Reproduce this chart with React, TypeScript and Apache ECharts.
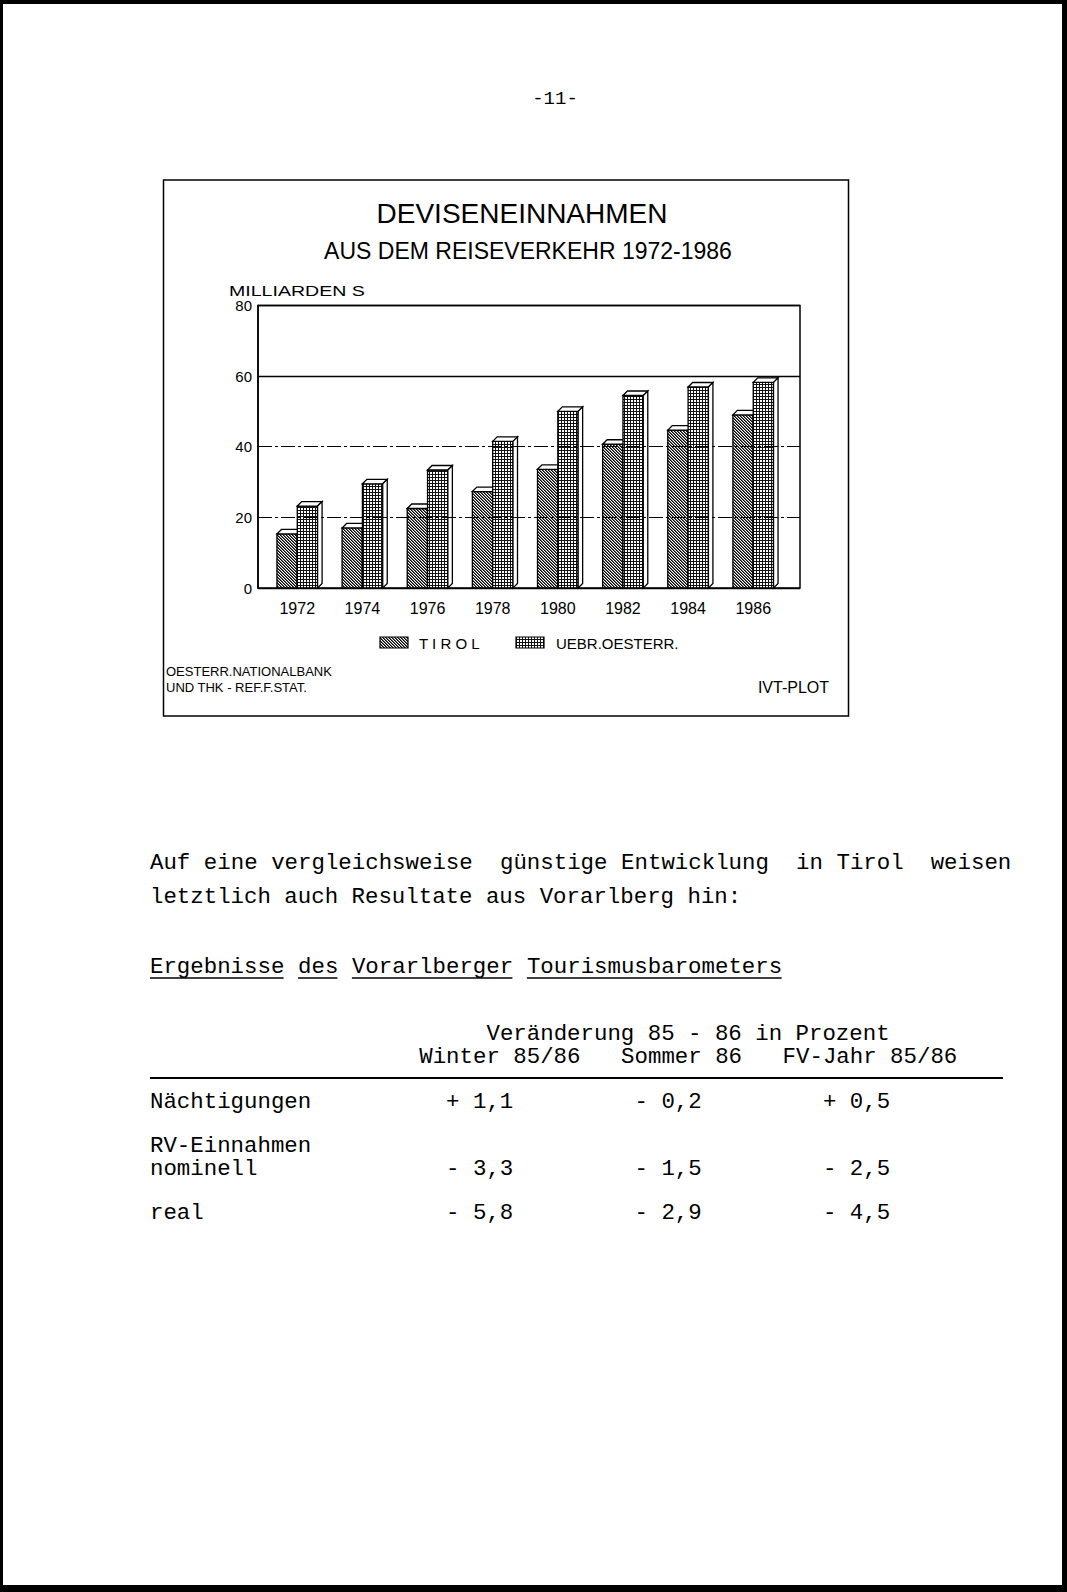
import React, { useEffect, useRef } from 'react';
import * as echarts from 'echarts';

// ---------- chart data ----------
const years = ['1972', '1974', '1976', '1978', '1980', '1982', '1984', '1986'];
const tirol = [15.3, 17.0, 22.5, 27.3, 33.6, 40.7, 44.7, 49.0];
const uebrOesterr = [23.2, 29.5, 33.4, 41.5, 50.0, 54.5, 56.9, 58.2];
const yMin = 0;
const yMax = 80;
const yStep = 20;
const legendNames = ['T I R O L', 'UEBR.OESTERR.'];

// ---------- table data ----------
const tableTitle = 'Veränderung 85 - 86 in Prozent';
const tableColumns = ['Winter 85/86', 'Sommer 86', 'FV-Jahr 85/86'];
const rowLabels = ['Nächtigungen', 'RV-Einnahmen', 'nominell', 'real'];
const winterValues = ['+ 1,1', '- 3,3', '- 5,8'];
const sommerValues = ['- 0,2', '- 1,5', '- 2,9'];
const fvJahrValues = ['+ 0,5', '- 2,5', '- 4,5'];

const SANS = "'Liberation Sans', Arial, sans-serif";
const MONO = "'Liberation Mono', 'Courier New', monospace";
const MONO_SIZE = 22.4;
const ADV = 13.46;
const X0 = 150;
const monoX = (slot: number) => X0 + slot * ADV;

function makeTile(size: number, fn: (x: number, y: number) => string | null) {
  const c = document.createElement('canvas');
  c.width = size;
  c.height = size;
  const ctx = c.getContext('2d')!;
  ctx.fillStyle = '#fff';
  ctx.fillRect(0, 0, size, size);
  for (let y = 0; y < size; y++) {
    for (let x = 0; x < size; x++) {
      const v = fn(x, y);
      if (v) {
        ctx.fillStyle = v;
        ctx.fillRect(x, y, 1, 1);
      }
    }
  }
  return { image: c.toDataURL(), repeat: 'repeat', imageWidth: size, imageHeight: size } as any;
}

export default function App() {
  const ref = useRef<HTMLDivElement>(null);
  useEffect(() => {
    if (!ref.current) return;
    const chart = echarts.init(ref.current, undefined, { renderer: 'svg' });

    const hatch = makeTile(3, (x, y) => {
      const m = (x - y + 30) % 3;
      return m === 0 ? '#000' : m === 1 ? '#666' : null;
    });
    const dots = makeTile(3, (x, y) => (x === 0 || y === 0 ? '#111' : null));

    const depth = 4.5;
    const makeRender = (side: number, fill: any) => (params: any, api: any) => {
      const idx = api.value(0);
      const val = api.value(1);
      const base = api.coord([idx, 0]);
      const top = api.coord([idx, val]);
      const band = api.size([1, 0])[0];
      const bw = band * 0.312;
      const x = side === 0 ? base[0] - bw : base[0];
      const yT = top[1];
      const yB = base[1];
      const d = depth;
      const ls = { stroke: '#000', lineWidth: 1.3 };
      return {
        type: 'group',
        children: [
          { type: 'rect', shape: { x, y: yT, width: bw, height: yB - yT }, style: { fill, ...ls } },
          {
            type: 'polygon',
            shape: { points: [[x, yT], [x + d, yT - d], [x + bw + d, yT - d], [x + bw, yT]] },
            style: { fill: '#fff', ...ls },
          },
          {
            type: 'polygon',
            shape: { points: [[x + bw, yT], [x + bw + d, yT - d], [x + bw + d, yB - d], [x + bw, yB]] },
            style: { fill: '#fff', ...ls },
          },
        ],
      };
    };

    const txt = (text: string, x: number, y: number, o: any = {}) => ({
      type: 'text',
      x,
      y,
      z: 10,
      scaleX: o.scaleX || 1,
      style: {
        text,
        fill: '#000',
        fontFamily: o.fontFamily || SANS,
        fontSize: o.fontSize || 15,
        fontWeight: o.fontWeight || 'normal',
        lineHeight: o.lineHeight,
        textAlign: o.align || 'left',
        textVerticalAlign: 'middle',
      },
    });
    const mono = (text: string, slot: number, y: number) =>
      txt(text, monoX(slot), y, { fontFamily: MONO, fontSize: MONO_SIZE, lineHeight: 19 });

    const graphic: any[] = [];
    // page border (scan edge)
    graphic.push({ type: 'rect', shape: { x: 0, y: 0, width: 1067, height: 4 }, style: { fill: '#000' } });
    graphic.push({ type: 'rect', shape: { x: 0, y: 0, width: 3, height: 1592 }, style: { fill: '#000' } });
    graphic.push({ type: 'rect', shape: { x: 1062, y: 0, width: 5, height: 1592 }, style: { fill: '#000' } });
    graphic.push({ type: 'rect', shape: { x: 0, y: 1585, width: 1067, height: 7 }, style: { fill: '#000' } });

    // page number
    graphic.push(txt('-11-', 555, 98.5, { fontFamily: MONO, fontSize: 19, align: 'center' }));

    // chart frame
    graphic.push({
      type: 'rect',
      shape: { x: 163.5, y: 180, width: 685, height: 536 },
      style: { fill: 'none', stroke: '#000', lineWidth: 1.5 },
    });
    graphic.push(txt('DEVISENEINNAHMEN', 522, 213, { fontSize: 28, align: 'center' }));
    graphic.push(txt('AUS DEM REISEVERKEHR 1972-1986', 528, 251, { fontSize: 23, align: 'center' }));
    graphic.push(txt('MILLIARDEN S', 229, 291, { fontSize: 14.5, scaleX: 1.35 }));

    // legend
    graphic.push({ type: 'rect', shape: { x: 380, y: 637, width: 28, height: 11 }, style: { fill: hatch, stroke: '#000', lineWidth: 1.2 } });
    graphic.push(txt(legendNames[0], 419, 643, { fontSize: 15 }));
    graphic.push({ type: 'rect', shape: { x: 516, y: 637, width: 28, height: 11 }, style: { fill: dots, stroke: '#000', lineWidth: 1.2 } });
    graphic.push(txt(legendNames[1], 556, 643, { fontSize: 15 }));

    // sources
    graphic.push(txt('OESTERR.NATIONALBANK', 166, 671, { fontSize: 13 }));
    graphic.push(txt('UND THK - REF.F.STAT.', 166, 687, { fontSize: 13 }));
    graphic.push(txt('IVT-PLOT', 829, 687, { fontSize: 16, align: 'right' }));

    // body text
    const line1: [string, number][] = [
      ['Auf', 0], ['eine', 4], ['vergleichsweise', 9], ['günstige', 26],
      ['Entwicklung', 35], ['in', 48], ['Tirol', 51], ['weisen', 58],
    ];
    line1.forEach(([w, s]) => graphic.push(mono(w, s, 863)));
    graphic.push(mono('letztlich auch Resultate aus Vorarlberg hin:', 0, 896.5));

    const heading: [string, number][] = [
      ['Ergebnisse', 0], ['des', 11], ['Vorarlberger', 15], ['Tourismusbarometers', 28],
    ];
    heading.forEach(([w, s]) => {
      graphic.push(mono(w, s, 966.5));
      graphic.push({
        type: 'line',
        shape: { x1: monoX(s), y1: 978, x2: monoX(s + w.length) - 1, y2: 978 },
        style: { stroke: '#000', lineWidth: 1.5 },
      });
    });

    // table
    graphic.push(mono(tableTitle, 25, 1033.5));
    const colSlots = [20, 35, 47];
    tableColumns.forEach((c, i) => graphic.push(mono(c, colSlots[i], 1057)));
    graphic.push({
      type: 'line',
      shape: { x1: 150, y1: 1078, x2: 1003, y2: 1078 },
      style: { stroke: '#000', lineWidth: 2 },
    });
    const rowY = [1101.5, 1145.5, 1168.5, 1213.2];
    rowLabels.forEach((r, i) => graphic.push(mono(r, 0, rowY[i])));
    const valueRows = [0, 2, 3];
    const valSlots = [22, 36, 50];
    [winterValues, sommerValues, fvJahrValues].forEach((vals, ci) => {
      vals.forEach((v, ri) => graphic.push(mono(v, valSlots[ci], rowY[valueRows[ri]])));
    });

    const plotTop = 305.4;
    const plotH = 282.6;

    chart.setOption({
      animation: false,
      backgroundColor: '#fff',
      grid: [
        { left: 264.7, top: plotTop, width: 521.1, height: plotH },
        {
          left: 258, top: plotTop, width: 542, height: plotH,
          show: true, borderColor: '#000', borderWidth: 1.5, backgroundColor: 'transparent',
        },
      ],
      xAxis: [
        {
          gridIndex: 0, type: 'category', data: years, boundaryGap: true,
          axisLine: { show: false }, axisTick: { show: false },
          axisLabel: { margin: 12, fontSize: 16, color: '#000', fontFamily: SANS },
        },
        { gridIndex: 1, type: 'value', min: 0, max: 1, show: false },
      ],
      yAxis: [
        {
          gridIndex: 1, type: 'value', min: yMin, max: yMax, interval: yStep, z: 5,
          axisLine: { show: true, lineStyle: { color: '#000', width: 1.5 } },
          axisTick: { show: false },
          axisLabel: { margin: 6, fontSize: 15, color: '#000', fontFamily: SANS },
          splitLine: { show: true, lineStyle: { color: '#000', width: 1.2, type: [14, 3, 3, 3] } },
        },
        {
          gridIndex: 1, type: 'value', min: yMin, max: yMax, interval: 60, z: 5, position: 'left',
          axisLine: { show: false }, axisTick: { show: false }, axisLabel: { show: false },
          splitLine: { show: true, lineStyle: { color: '#000', width: 1.3, type: 'solid' } },
        },
        { gridIndex: 0, type: 'value', min: yMin, max: yMax, show: false },
      ],
      series: [
        {
          type: 'custom', name: legendNames[0], xAxisIndex: 0, yAxisIndex: 2, z: 1,
          data: tirol.map((v, i) => [i, v]), encode: { x: 0, y: 1 },
          renderItem: makeRender(0, hatch),
        },
        {
          type: 'custom', name: legendNames[1], xAxisIndex: 0, yAxisIndex: 2, z: 2,
          data: uebrOesterr.map((v, i) => [i, v]), encode: { x: 0, y: 1 },
          renderItem: makeRender(1, dots),
        },
      ],
      graphic,
    });
    return () => chart.dispose();
  }, []);
  return (
    <div
      ref={ref}
      style={{ position: 'absolute', left: 0, top: 0, width: 1067, height: 1592, background: '#fff' }}
    />
  );
}
